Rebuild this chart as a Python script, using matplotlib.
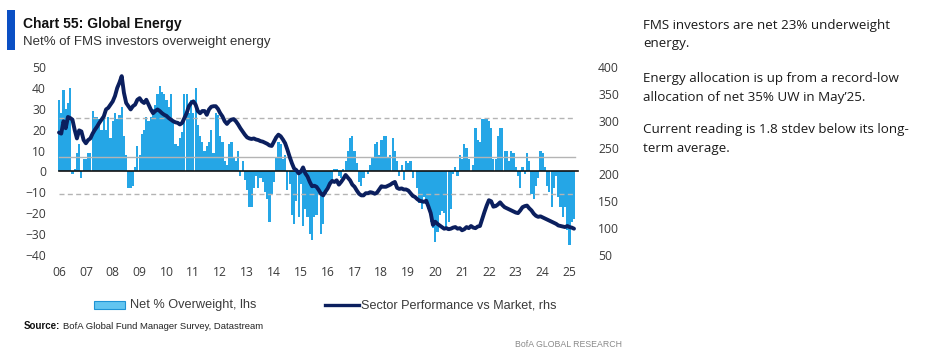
"""Chart 55: Global Energy - FMS net overweight vs sector relative performance."""

import matplotlib
matplotlib.use("Agg")
import matplotlib.pyplot as plt
from matplotlib import font_manager
from matplotlib.patches import Rectangle
from matplotlib.lines import Line2D
import numpy as np

# =============================================================================
# Data (monthly, starting Jan 2006)
# =============================================================================
start_year = 2006

# Net % of FMS investors overweight energy (lhs)
net_overweight = [
    34, 28, 39, 30, 33, 40, -1, 1, 9, 13, -3, 6,            # 2006
    6, 9, 9, 29, 26, 26, 25, 20, 25, 20, 26, 16,            # 2007
    24, 28, 25, 27, 31, 17, 8, -8, -8, -7, 2, 12,           # 2008
    8, 18, 20, 26, 24, 26, 30, 32, 37, 41, 38, 37,          # 2009
    34, 31, 37, 23, 13, 12, 16, 19, 37, 37, 28, 34,         # 2010
    28, 40, 22, 17, 14, 10, 12, 14, 20, 9, 28, 27,          # 2011
    17, 14, 5, 3, 13, 14, 7, 5, 10, -2, 5, -4,              # 2012
    -9, -17, -17, -8, -2, -8, -3, -5, -10, -13, -24, -11,   # 2013
    -5, 7, 14, 13, 6, 8, -9, -6, -21, -25, -14, -22,        # 2014
    -6, -26, -18, -22, -30, -33, -22, -21, -11, -30, -25, -11,  # 2015
    -8, -5, -4, 1, 1, -2, -3, 1, 5, 10, 16, 17,             # 2016
    10, 4, -5, -7, -3, 0, -1, 3, 7, 13, 14, 8,              # 2017
    15, 17, 17, 7, 8, 16, 10, 5, -2, 3, -4, 5,              # 2018
    4, 5, -3, 0, -8, -15, -18, -12, -13, -18, -24, -27,     # 2019
    -34, -29, -21, -19, -20, -28, -24, -18, -1, 2, -2, 8,   # 2020
    6, 13, 11, 6, 0, 3, 21, 15, 14, 25, 25, 25,             # 2021
    24, 21, 6, 6, 17, 21, 21, 10, 10, 5, 10, 9,             # 2022
    2, -2, -8, 2, -1, 9, 5, -11, -13, -7, -3, 10,           # 2023
    9, 2, -7, -10, -17, -8, -2, -12, -17, -22, -17, -28,    # 2024
    -35, -24, -23,                                          # 2025
]

# Sector performance vs market (rhs)
sector_perf = [
    278, 276, 299, 286, 307, 305, 302, 283, 267, 282, 280, 264,
    258, 264, 267, 276, 283, 289, 296, 302, 308, 321, 324, 330,
    336, 346, 361, 371, 383, 352, 333, 327, 321, 327, 330, 339,
    342, 336, 333, 339, 330, 321, 314, 318, 321, 318, 314, 311,
    309, 305, 302, 299, 297, 296, 293, 296, 305, 314, 327, 333,
    336, 330, 318, 314, 318, 318, 311, 321, 326, 327, 327, 322,
    314, 308, 299, 294, 299, 302, 303, 299, 293, 286, 280, 274,
    269, 267, 266, 267, 265, 264, 262, 261, 259, 257, 254, 253,
    261, 269, 274, 271, 265, 258, 246, 233, 221, 211, 208, 202,
    205, 213, 202, 196, 186, 178, 179, 177, 171, 164, 161, 168,
    174, 183, 188, 186, 189, 181, 186, 192, 199, 194, 189, 181,
    177, 170, 164, 161, 161, 165, 165, 167, 166, 164, 166, 172,
    178, 177, 177, 179, 181, 184, 186, 175, 173, 174, 172, 172,
    170, 165, 160, 158, 154, 151, 150, 149, 151, 140, 128, 106,
    112, 108, 105, 102, 99, 100, 98, 99, 101, 102, 99, 100,
    96, 98, 102, 100, 104, 101, 100, 103, 104, 117, 130, 142,
    152, 150, 140, 141, 144, 148, 143, 139, 137, 135, 133, 131,
    129, 128, 133, 139, 141, 142, 137, 133, 127, 123, 121, 122,
    120, 118, 116, 114, 112, 110, 108, 105, 104, 103, 102, 104,
    102, 101, 99,
]

# Long-term average and +/- 1 stdev bands (lhs)
avg_level = 7
upper_band = 25.5
lower_band = -11

years = list(range(2006, 2026))
year_labels = [f"{y % 100:02d}" for y in years]
left_ticks = list(range(-40, 51, 10))
right_ticks = list(range(50, 401, 50))

# =============================================================================
# Style
# =============================================================================
BAR = "#25a6e6"
NAVY = "#0b1f5e"
GRID = "#b4b4b4"
TEXT = "#3a3a3a"

names = {f.name for f in font_manager.fontManager.ttflist}
NARROW = "Liberation Sans Narrow" if "Liberation Sans Narrow" in names else "Liberation Sans"
BODY = "Open Sans"

W, H = 942, 357


def fx(px):
    return px / W


def fy(py):
    return 1 - py / H


# =============================================================================
# Plot
# =============================================================================
fig = plt.figure(figsize=(W / 100, H / 100), dpi=100)

left_px, right_px, top_px, bottom_px = 57, 580, 62, 260
ax = fig.add_axes([fx(left_px), fy(bottom_px), (right_px - left_px) / W, (bottom_px - top_px) / H])

x = start_year + np.arange(len(net_overweight)) / 12
px_per_year = 26.87
x0 = start_year - 2 / px_per_year
ax.set_xlim(x0, x0 + (right_px - left_px) / px_per_year)
ax.set_ylim(-42.4, 52.4)

ax.bar(x, net_overweight, width=0.97 / 12, color=BAR, linewidth=0, zorder=1)

# Reference lines
ax.axhline(upper_band, xmin=0.004, xmax=0.99, color=GRID, lw=1, ls=(0, (3.6, 2.4)), zorder=2)
ax.axhline(lower_band, xmin=0.004, xmax=0.99, color=GRID, lw=1, ls=(0, (3.6, 2.4)), zorder=2)
ax.axhline(avg_level, xmin=0.004, xmax=0.99, color=GRID, lw=1, zorder=2)
ax.axhline(0, xmin=0.004, xmax=0.996, color="#111111", lw=1.2, zorder=3)

ax.set_yticks(left_ticks)
ax.set_xticks(years)
ax.set_xticklabels(year_labels)
ax.tick_params(axis="y", length=0, pad=8, labelsize=8.7, labelcolor=TEXT)
ax.tick_params(axis="x", length=0, pad=4, labelsize=8.7, labelcolor=TEXT)
for lab in ax.get_xticklabels() + ax.get_yticklabels():
    lab.set_fontfamily(BODY)

# Right axis line
ax2 = ax.twinx()
ax2.plot(x, sector_perf, color=NAVY, lw=2.8, solid_joinstyle="round", solid_capstyle="round", zorder=5)
ax2.set_ylim(40.7, 409.3)
ax2.set_yticks(right_ticks)
ax2.tick_params(axis="y", length=0, pad=13, labelsize=8.7, labelcolor=TEXT)
for lab in ax2.get_yticklabels():
    lab.set_fontfamily(BODY)

for a in (ax, ax2):
    for s in a.spines.values():
        s.set_visible(False)

# Title block
fig.add_artist(Rectangle((fx(7), fy(50)), fx(8), 40 / H, transform=fig.transFigure,
                         color="#0a4fc4", lw=0))
fig.text(fx(23), fy(28), "Chart 55: Global Energy", fontfamily=NARROW, fontweight="bold",
         fontsize=10, color="#111111", va="baseline")
fig.text(fx(23), fy(45.5), "Net% of FMS investors overweight energy", fontfamily=NARROW,
         fontsize=9.5, color="#333333", va="baseline")

# Legend
fig.add_artist(Rectangle((fx(94), fy(309)), fx(31), 8 / H, transform=fig.transFigure,
                         facecolor="#62c5f0", edgecolor="#1f93d4", lw=0.8))
fig.text(fx(130), fy(305), "Net % Overweight, lhs", fontfamily=NARROW, fontsize=9.2,
         color=TEXT, va="center")
fig.add_artist(Line2D([fx(325), fx(359)], [fy(305), fy(305)], transform=fig.transFigure,
                      color=NAVY, lw=2.4))
fig.text(fx(361), fy(305), "Sector Performance vs Market, rhs", fontfamily=NARROW,
         fontsize=9.1, color=TEXT, va="center")

# Source line
src = fig.text(fx(24), fy(329), "Source:", fontfamily=NARROW, fontweight="bold",
               fontsize=7, color="#111111", va="baseline")
fig.canvas.draw()
bb = src.get_window_extent(fig.canvas.get_renderer())
fig.text(bb.x1 / W + fx(2.5), fy(329), "BofA Global Fund Manager Survey, Datastream",
         fontfamily=NARROW, fontsize=6.8, color="#222222", va="baseline")
fig.text(fx(622), fy(347), "BofA GLOBAL RESEARCH", fontfamily=NARROW, fontsize=6.3,
         color="#8a8a8a", ha="right", va="baseline")

# Commentary
lines = [
    (28.5, "FMS investors are net 23% underweight"),
    (47, "energy."),
    (82, "Energy allocation is up from a record-low"),
    (100.5, "allocation of net 35% UW in May\u201925."),
    (133.5, "Current reading is 1.8 stdev below its long-"),
    (152, "term average."),
]
for y_px, txt in lines:
    fig.text(fx(643), fy(y_px), txt, fontfamily=BODY, fontsize=9.6, color="#1a1a1a",
             va="baseline")

fig.savefig("out.png", dpi=100)
